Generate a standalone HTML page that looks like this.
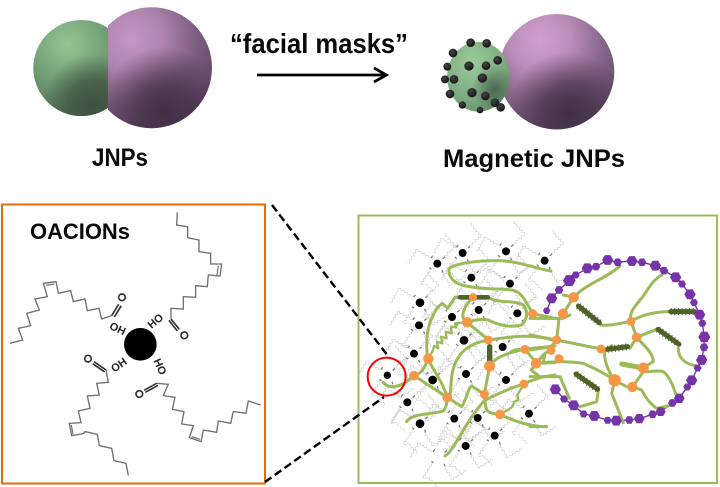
<!DOCTYPE html>
<html><head><meta charset="utf-8"><style>
html,body{margin:0;padding:0;background:#fff}
svg{display:block;filter:blur(.35px)}
text{font-family:"Liberation Sans",sans-serif;font-weight:bold;fill:#0a0a0a}
</style></head><body>
<svg width="720" height="487" viewBox="0 0 720 487" xmlns="http://www.w3.org/2000/svg">
<defs>
<clipPath id="cl"><rect x="0" y="0" width="108.500" height="160"/></clipPath>
<clipPath id="cr"><rect x="108" y="0" width="120" height="160"/></clipPath>
<radialGradient id="gp" cx=".33" cy=".26" r=".85">
<stop offset="0" stop-color="#C496C4"/><stop offset=".3" stop-color="#AF85AF"/><stop offset=".62" stop-color="#7F5F82"/><stop offset="1" stop-color="#583F5E"/></radialGradient>
<radialGradient id="gp2" cx=".6" cy=".85" r=".52">
<stop offset="0" stop-color="#3F2D42" stop-opacity=".95"/><stop offset=".45" stop-color="#3F2D42" stop-opacity=".65"/><stop offset="1" stop-color="#3F2D42" stop-opacity="0"/></radialGradient>
<radialGradient id="gp3" cx=".36" cy=".22" r=".85">
<stop offset="0" stop-color="#D3A0D1"/><stop offset=".32" stop-color="#BA8CB8"/><stop offset=".65" stop-color="#86648A"/><stop offset="1" stop-color="#5E4464"/></radialGradient>
<radialGradient id="gg" cx=".36" cy=".25" r=".85">
<stop offset="0" stop-color="#94C596"/><stop offset=".4" stop-color="#78A57B"/><stop offset=".8" stop-color="#5B7E5E"/><stop offset="1" stop-color="#4E6C52"/></radialGradient>
<radialGradient id="gg2" cx=".62" cy=".88" r=".52">
<stop offset="0" stop-color="#3C503E" stop-opacity=".95"/><stop offset=".5" stop-color="#3C503E" stop-opacity=".7"/><stop offset="1" stop-color="#3C503E" stop-opacity="0"/></radialGradient>
<radialGradient id="gm" cx=".4" cy=".3" r=".8">
<stop offset="0" stop-color="#9CCB9C"/><stop offset=".65" stop-color="#7BAA7F"/><stop offset="1" stop-color="#64906A"/></radialGradient>
<radialGradient id="gm2" cx=".75" cy=".68" r=".35">
<stop offset="0" stop-color="#46604A" stop-opacity=".9"/><stop offset="1" stop-color="#46604A" stop-opacity="0"/></radialGradient>
<radialGradient id="bk" cx=".4" cy=".35" r=".7"><stop offset="0" stop-color="#444"/><stop offset="1" stop-color="#111"/></radialGradient>
<g id="ch" fill="none" stroke-linejoin="miter">
<path d="M532,52 530,90 563,95 563,128 597,135 597,170 632,175 632,207 665,207 660,243 625,240 622,275 587,272 587,307 550,305 550,342 513,340 513,372"/>
<path d="M30,445 68,435 55,400 92,392 80,355 118,345 105,312 142,305 130,265 168,260 175,295 212,287 220,320 255,312 262,347 297,340 305,372 335,362"/>
<path d="M385,842 378,805 342,797 335,760 298,752 292,718 255,710 250,716 215,722 208,685 243,683 235,648 270,640 262,603 298,600 290,565 325,562 318,525"/>
<path d="M782,630 745,618 738,655 700,650 692,685 655,678 650,712 610,705 603,740 568,728 580,692 545,687 552,650 517,643 525,607 490,602 505,568 470,565"/>
</g>
<g id="p" transform="scale(.23) translate(-421,-448)">
<use href="#ch" stroke="#bdbdbd" stroke-width="6"/>
<path d="M340,375 362,345M490,385 520,360M345,520 318,500M480,530 495,560" stroke="#777" stroke-width="16" fill="none"/>
</g>
<polygon id="h" points="1,0 .5,.87 -.5,.87 -1,0 -.5,-.87 .5,-.87"/>
</defs>

<!-- top JNP -->
<g clip-path="url(#cl)">
<circle cx="81.300" cy="68" r="48" fill="url(#gg)"/>
<circle cx="81.300" cy="68" r="48" fill="url(#gg2)"/>
</g>
<g clip-path="url(#cr)">
<circle cx="151.500" cy="67.700" r="60.500" fill="url(#gp)"/>
<circle cx="151.500" cy="67.700" r="60.500" fill="url(#gp2)"/>
</g>
<text x="92" y="166" font-size="25" textLength="56" lengthAdjust="spacingAndGlyphs">JNPs</text>

<text x="230" y="53" font-size="28" textLength="178" lengthAdjust="spacingAndGlyphs">“facial masks”</text>
<path d="M257,75H385" stroke="#000" stroke-width="2.800"/>
<path d="M374,68 386.500,75 374,82" fill="none" stroke="#000" stroke-width="2.800"/>

<!-- magnetic -->
<circle cx="556.600" cy="71.700" r="57.700" fill="url(#gp3)"/>
<circle cx="556.600" cy="71.700" r="57.700" fill="url(#gp2)"/>
<ellipse cx="478.600" cy="76.700" rx="31.500" ry="35" fill="url(#gm)"/>
<ellipse cx="478.600" cy="76.700" rx="31.500" ry="35" fill="url(#gm2)"/>
<g transform="translate(430,0) scale(.3333)" fill="url(#bk)">
<circle cx="122" cy="128" r="13"/><circle cx="170" cy="130" r="13"/><circle cx="69" cy="159" r="13"/><circle cx="52" cy="200" r="12"/><circle cx="45" cy="238" r="12"/><circle cx="72" cy="238" r="13"/><circle cx="60" cy="282" r="13"/><circle cx="97" cy="315" r="11"/><circle cx="150" cy="330" r="10"/><circle cx="212" cy="322" r="13"/><circle cx="195" cy="308" r="13"/><circle cx="166" cy="288" r="13"/><circle cx="126" cy="278" r="14"/><circle cx="157" cy="234" r="14"/><circle cx="168" cy="197" r="13"/><circle cx="117" cy="198" r="14"/><circle cx="203" cy="181" r="13"/>
</g>
<text x="443" y="167" font-size="25" textLength="182" lengthAdjust="spacingAndGlyphs">Magnetic JNPs</text>

<!-- left panel -->
<rect x="2" y="204.500" width="263" height="279" fill="#fff" stroke="#E46C0A" stroke-width="2"/>
<text x="30" y="239" font-size="22" textLength="100" lengthAdjust="spacingAndGlyphs">OACIONs</text>
<g transform="translate(0,195) scale(.3333)">
<use href="#ch" stroke="#6f6f6f" stroke-width="4"/>
<path d="M655,212 651,240M138,271 163,267M214,690 219,718M575,725 600,733" stroke="#6f6f6f" stroke-width="3.500" fill="none"/>
<g fill="none" stroke="#333" stroke-width="5">
<path d="M335,362 356,328M343,366 364,332M513,372 538,403M507,376 532,408M318,525 282,500M314,531 278,506M470,565 432,586M474,571 436,592"/>
<circle cx="366" cy="307" r="10"/><circle cx="553" cy="421" r="10"/><circle cx="264" cy="491" r="10"/><circle cx="418" cy="597" r="10"/>
</g>
<circle cx="421" cy="448" r="49" fill="#000"/>
<text transform="translate(352,403) rotate(25)" font-size="33" text-anchor="middle" dominant-baseline="middle" style="fill:#222">OH</text>
<text transform="translate(468,380) rotate(-40)" font-size="33" text-anchor="middle" dominant-baseline="middle" style="fill:#222">HO</text>
<text transform="translate(358,512) rotate(-35)" font-size="33" text-anchor="middle" dominant-baseline="middle" style="fill:#222">OH</text>
<text transform="translate(478,516) rotate(65)" font-size="33" text-anchor="middle" dominant-baseline="middle" style="fill:#222">HO</text>
</g>

<!-- right panel -->
<rect x="358.500" y="215.500" width="358.500" height="267.500" fill="#fff" stroke="#9BBB59" stroke-width="2"/>
<g transform="translate(355,210) scale(.3333)">
<use href="#p" transform="translate(323,129)"/><use href="#p" transform="translate(453,124)"/><use href="#p" transform="translate(569,152)"/><use href="#p" transform="translate(247,161)"/><use href="#p" transform="translate(349,203)"/><use href="#p" transform="translate(465,221)"/><use href="#p" transform="translate(195,278)"/><use href="#p" transform="translate(371,300)"/><use href="#p" transform="translate(487,310)"/><use href="#p" transform="translate(291,321)"/><use href="#p" transform="translate(192,346)"/><use href="#p" transform="translate(327,391)"/><use href="#p" transform="translate(443,411)"/><use href="#p" transform="translate(177,431)"/><use href="#p" transform="translate(97,496)"/><use href="#p" transform="translate(233,510)"/><use href="#p" transform="translate(333,492)"/><use href="#p" transform="translate(453,510)"/><use href="#p" transform="translate(157,577)"/><use href="#p" transform="translate(522,611)"/><use href="#p" transform="translate(298,626)"/><use href="#p" transform="translate(368,624)"/><use href="#p" transform="translate(195,641)"/><use href="#p" transform="translate(419,677)"/><use href="#p" transform="translate(332,708)"/><use href="#p" transform="translate(253,742)"/>
<g fill="#000"><circle cx="323" cy="129" r="12"/><circle cx="453" cy="124" r="12"/><circle cx="569" cy="152" r="12"/><circle cx="247" cy="161" r="12"/><circle cx="349" cy="203" r="12"/><circle cx="465" cy="221" r="12"/><circle cx="195" cy="278" r="13"/><circle cx="371" cy="300" r="12"/><circle cx="487" cy="310" r="12"/><circle cx="291" cy="321" r="12"/><circle cx="192" cy="346" r="12"/><circle cx="327" cy="391" r="13"/><circle cx="443" cy="411" r="12"/><circle cx="177" cy="431" r="12"/><circle cx="97" cy="496" r="11"/><circle cx="233" cy="510" r="13"/><circle cx="333" cy="492" r="12"/><circle cx="453" cy="510" r="12"/><circle cx="157" cy="577" r="12"/><circle cx="522" cy="611" r="12"/><circle cx="298" cy="626" r="12"/><circle cx="368" cy="624" r="12"/><circle cx="195" cy="641" r="13"/><circle cx="419" cy="677" r="12"/><circle cx="332" cy="708" r="12"/></g>
<g fill="none" stroke="#9BBB59" stroke-width="9" stroke-linecap="round" stroke-linejoin="round">
<path d="M588,183C540,175 480,150 420,152C370,152 300,160 282,176C280,195 290,215 320,225C380,240 440,235 470,240C500,245 510,270 533,311"/>
<path d="M218,445C212,400 212,340 250,290L262,280 278,295 300,262 400,262C430,282 470,268 505,285C520,305 518,325 500,345C470,352 440,350 400,330C375,325 355,332 337,337"/>
<path d="M354,262C330,285 320,310 325,325L337,337 400,390"/>
<path d="M400,390C340,400 300,430 290,500L285,560"/>
<path d="M218,445 232,425 238,408 250,415 245,395 262,400 258,380 275,385 272,365 290,370 288,350 303,352 300,340 337,337" stroke-width="7"/>
<path d="M85,518C100,535 130,540 177,497C200,490 210,475 218,445"/>
<path d="M177,497 277,562M218,445C240,490 265,520 277,562"/>
<path d="M155,635C170,610 220,615 265,603C275,590 277,575 277,562L320,590C335,570 340,530 350,528L388,553"/>
<path d="M404,468 388,553 392,590C395,610 410,610 435,613C480,635 530,650 575,650"/>
<path d="M435,613 462,598 472,590 478,575 490,570 487,555 507,522" stroke-width="7"/>
<path d="M270,738C300,720 320,650 388,572C440,545 480,530 507,522C540,505 570,498 600,495"/>
<path d="M400,390C470,380 530,370 600,392"/>
<path d="M404,468C420,440 470,425 510,418C545,412 570,412 600,408"/>
<path d="M533,311 600,325M510,418C490,420 480,415 465,428M510,418 545,460 528,480 548,495M588,420C565,430 560,440 545,460L600,458"/>
<path d="M404,410V458" stroke="#4F6228" stroke-width="16"/>
<path d="M315,262H398" stroke="#4F6228" stroke-width="14"/>
</g>
<g fill="#F79646" stroke="#F79646" stroke-width="3"><circle cx="220" cy="446" r="14"/><circle cx="177" cy="497" r="13"/><circle cx="277" cy="562" r="13"/><circle cx="354" cy="262" r="11"/><circle cx="337" cy="337" r="14"/><circle cx="400" cy="390" r="12"/><circle cx="404" cy="468" r="15"/><circle cx="388" cy="553" r="12"/><circle cx="435" cy="613" r="13"/><circle cx="507" cy="522" r="12"/><circle cx="510" cy="418" r="12"/><circle cx="544" cy="460" r="14"/><circle cx="533" cy="311" r="12"/></g>
</g>
<g transform="translate(530,240) scale(.3333)">
<path d="M50,212 65,175 87,150 118,122 137,105 172,85 198,80 233,60 263,67 306,63 336,67 376,77 402,92 437,112 456,132 480,163 492,188 509,224 517,250 523,291 522,322 515,360 503,384 485,421 472,441 448,475 427,489 392,515 368,523 328,536 298,540 259,542 233,541 193,528 161,522 131,496 102,477 76,448" fill="none" stroke="#7030A0" stroke-width="4"/>
<g fill="none" stroke="#9BBB59" stroke-width="9" stroke-linecap="round" stroke-linejoin="round">
<path d="M270,78C230,115 170,130 131,172M100,165 131,172 99,221M0,235H99L120,225M87,235 80,300M0,285 80,300 213,327M0,330 63,320 80,300M63,331 45,340 40,365M18,370C60,365 110,362 160,370C195,385 225,400 254,421L290,440 307,441 335,450C350,480 365,495 380,505L415,498M307,441 340,395C370,395 390,390 400,395C420,410 430,440 440,470M254,421 245,460 280,548M254,421C235,395 220,360 225,330L245,317M320,292C345,320 370,340 370,365L340,384M320,292 300,325M320,292 380,268M303,244 320,292M303,244C295,215 320,195 330,180C350,160 360,125 395,105M303,244C340,222 380,215 420,215M303,244C270,250 240,258 212,255M445,325C445,350 460,370 495,377M205,450 200,485 150,500M0,410H90L118,475M0,560H50"/>
<path d="M275,372 340,384" stroke-width="15"/>
<g stroke="#4F6228" stroke-linecap="round">
<path d="M145,198 208,248M422,215H493M384,268 447,313M232,328 293,320M138,402 203,448" stroke-width="15"/>
<path d="M145,198 208,248M422,215H493M384,268 447,313M232,328 293,320M138,402 203,448" stroke-width="21" stroke-dasharray="3 8" stroke-linecap="butt"/>
</g>
</g>
<g fill="#F79646" stroke="#F79646" stroke-width="3"><circle cx="131" cy="172" r="14"/><circle cx="99" cy="221" r="14"/><circle cx="80" cy="300" r="12"/><circle cx="63" cy="331" r="12"/><circle cx="87" cy="356" r="12"/><circle cx="18" cy="370" r="14"/><circle cx="213" cy="327" r="12"/><circle cx="254" cy="421" r="17"/><circle cx="307" cy="441" r="14"/><circle cx="340" cy="384" r="15"/><circle cx="320" cy="292" r="13"/><circle cx="303" cy="244" r="12"/><circle cx="8" cy="221" r="12"/></g>
<g fill="#7634A8">
<use href="#h" transform="translate(50,212) scale(11)"/><use href="#h" transform="translate(65,175) scale(17)"/><use href="#h" transform="translate(87,150) scale(13)"/><use href="#h" transform="translate(118,122) scale(19)"/><use href="#h" transform="translate(137,105) scale(12)"/><use href="#h" transform="translate(172,85) scale(17)"/><use href="#h" transform="translate(198,80) scale(13)"/><use href="#h" transform="translate(233,60) scale(17)"/><use href="#h" transform="translate(263,67) scale(13)"/><use href="#h" transform="translate(306,63) scale(17)"/><use href="#h" transform="translate(336,67) scale(13)"/><use href="#h" transform="translate(376,77) scale(17)"/><use href="#h" transform="translate(402,92) scale(13)"/><use href="#h" transform="translate(437,112) scale(17)"/><use href="#h" transform="translate(456,132) scale(12)"/><use href="#h" transform="translate(480,163) scale(17)"/><use href="#h" transform="translate(492,188) scale(12)"/><use href="#h" transform="translate(509,224) scale(17)"/><use href="#h" transform="translate(517,250) scale(12)"/><use href="#h" transform="translate(523,291) scale(18)"/><use href="#h" transform="translate(522,322) scale(13)"/><use href="#h" transform="translate(515,360) scale(17)"/><use href="#h" transform="translate(503,384) scale(12)"/><use href="#h" transform="translate(485,421) scale(17)"/><use href="#h" transform="translate(472,441) scale(12)"/><use href="#h" transform="translate(448,475) scale(16)"/><use href="#h" transform="translate(427,489) scale(13)"/><use href="#h" transform="translate(392,515) scale(15)"/><use href="#h" transform="translate(368,523) scale(13)"/><use href="#h" transform="translate(328,536) scale(16)"/><use href="#h" transform="translate(298,540) scale(13)"/><use href="#h" transform="translate(259,542) scale(17)"/><use href="#h" transform="translate(233,541) scale(12)"/><use href="#h" transform="translate(193,528) scale(17)"/><use href="#h" transform="translate(161,522) scale(12)"/><use href="#h" transform="translate(131,496) scale(17)"/><use href="#h" transform="translate(102,477) scale(12)"/><use href="#h" transform="translate(76,448) scale(17)"/>
</g>
</g>

<!-- dashed lines and red circle -->
<path d="M272,205 388,356" stroke="#000" stroke-width="2.400" stroke-dasharray="8 4" fill="none"/>
<path d="M265,482 384,397" stroke="#000" stroke-width="2.400" stroke-dasharray="8 4" fill="none"/>
<g transform="translate(355,210) scale(.3333)">
<path d="M85,518C100,535 130,540 177,497" fill="none" stroke="#9BBB59" stroke-width="9" stroke-linecap="round"/>
<circle cx="177" cy="497" r="14" fill="#F79646"/>
<circle cx="95" cy="500" r="57" fill="none" stroke="#F00" stroke-width="6"/>
</g>
</svg>
</body></html>
